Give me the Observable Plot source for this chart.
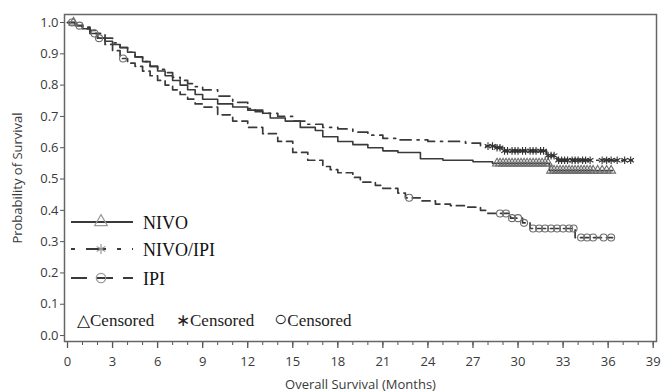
<!DOCTYPE html>
<html><head><meta charset="utf-8">
<script src="https://cdn.jsdelivr.net/npm/d3@7"></script>
<script src="https://cdn.jsdelivr.net/npm/@observablehq/plot@0.6"></script>
<style>
body{margin:0;background:#fff;}
#chart{position:relative;width:666px;height:392px;}
</style></head><body><div id="chart"></div>
<script>
// ---- data ----
const nivoT = [0,0.5,1,1.5,2,2.5,3,3.5,4,4.5,5,5.5,6,6.5,7,7.5,8,8.5,9,10,11,12,13,13.5,14.5,15.5,16.5,17,18,19,20,21,22,23.5,25,27,28.3,32.1,36.3];
const nivoS = [1,0.99,0.98,0.965,0.95,0.94,0.93,0.92,0.905,0.89,0.875,0.86,0.845,0.83,0.815,0.8,0.785,0.77,0.755,0.74,0.73,0.72,0.71,0.695,0.685,0.665,0.655,0.635,0.62,0.61,0.6,0.59,0.585,0.565,0.56,0.555,0.55,0.527,0.527];

const comboT = [0,0.5,1,1.5,2,2.5,3,3.5,4,4.5,5,5.5,6,6.5,7,7.5,8,8.5,9,10,11,12,12.5,13,14,15,16,17,18,19,20,21,22,24,26.5,27.5,28.5,29,31.9,32.6,37.6];
const comboS = [1,0.995,0.985,0.975,0.965,0.95,0.935,0.92,0.905,0.89,0.875,0.86,0.85,0.84,0.825,0.815,0.805,0.795,0.785,0.765,0.745,0.725,0.715,0.71,0.7,0.685,0.675,0.665,0.66,0.65,0.64,0.63,0.625,0.62,0.615,0.605,0.6,0.59,0.575,0.56,0.56];

const ipiT = [0,0.5,1,1.5,2,2.5,3,3.5,4,4.5,5,5.5,6,6.5,7,7.5,8,8.5,9,10,11,12,13,14,15,16,17,17.5,18,19,19.5,20.5,21,22,22.5,23.5,24.5,25.5,26.5,27.5,28,29.5,30.3,30.8,33.8,36.3];
const ipiS = [1,0.99,0.98,0.965,0.95,0.93,0.91,0.885,0.87,0.86,0.845,0.83,0.815,0.8,0.785,0.77,0.755,0.74,0.73,0.705,0.685,0.665,0.645,0.62,0.585,0.56,0.54,0.53,0.52,0.505,0.49,0.48,0.47,0.455,0.44,0.43,0.42,0.415,0.41,0.4,0.39,0.375,0.36,0.342,0.313,0.313];

const nivoCens = [0.4,28.6,28.8,29.0,29.2,29.4,29.6,29.8,30.0,30.2,30.4,30.6,30.8,31.0,31.2,31.4,31.6,31.8,32.0,32.2,32.4,32.6,32.8,33.0,33.2,33.4,33.6,33.8,34.0,34.2,34.4,34.6,34.8,35.0,35.3,35.6,35.9,36.2];
const comboCens = [28.0,28.3,28.6,28.8,29.1,29.3,29.6,29.8,30.0,30.3,30.5,30.8,31.0,31.2,31.5,31.7,32.0,32.2,32.4,32.7,32.9,33.1,33.3,33.6,33.8,34.0,34.3,34.5,34.8,35.6,35.9,36.2,36.6,37.1,37.5];
const ipiCens = [0.3,0.8,1.8,2.1,3.7,22.75,28.8,29.2,29.6,30.0,30.4,31.0,31.4,31.8,32.2,32.6,33.0,33.4,33.7,34.2,34.6,35.0,35.7,36.2];

const seriesNames = ["NIVO","NIVO/IPI","IPI"];
const xMajor = d3.range(0, 40, 3);
const xMinor = d3.range(0, 40, 1);
const yTicks = [0,0.1,0.2,0.3,0.4,0.5,0.6,0.7,0.8,0.9,1.0];

// ---- build tables ----
const rows = (t, s, name) => t.map((d, i) => ({t: d, s: s[i], series: name}));
const survAt = (t, s, time) => { let v = s[0]; for (let i = 0; i < t.length; i++) if (t[i] <= time) v = s[i]; return v; };
const cens = (c, t, s, name) => c.map(time => ({t: time, s: survAt(t, s, time), series: name}));

const nivo = rows(nivoT, nivoS, seriesNames[0]);
const combo = rows(comboT, comboS, seriesNames[1]);
const ipi = rows(ipiT, ipiS, seriesNames[2]);

const lineColor = "#3a3a3a";
const censColor = "#6e6e6e";

const chart = Plot.plot({
  width: 666, height: 392,
  marginLeft: 64, marginRight: 10, marginTop: 14, marginBottom: 51,
  style: {fontFamily: "'Open Sans', sans-serif", fontSize: "13px", color: "#3a3a3a", background: "#fff"},
  x: {domain: [-0.2, 39.22]},
  y: {domain: [-0.019, 1.0256]},
  marks: [
    Plot.axisX({ticks: xMinor, tickSize: 4, text: null, label: null, stroke: "#555"}),
    Plot.axisX({ticks: xMajor, tickSize: 7, tickPadding: 8, stroke: "#555", strokeWidth: 1.3,
      label: "Overall Survival (Months)", labelAnchor: "center", labelArrow: "none", labelOffset: 47, fontSize: 13}),
    Plot.axisY({ticks: yTicks, tickSize: 4, tickPadding: 2, tickFormat: d3.format(".1f"), stroke: "#555",
      label: "Probability of Survival", labelAnchor: "center", labelArrow: "none", labelOffset: 52, fontSize: 13}),
    Plot.frame({stroke: "#666", strokeWidth: 1.5}),
    Plot.line(nivo, {x: "t", y: "s", curve: "step-after", stroke: lineColor, strokeWidth: 1.6}),
    Plot.line(combo, {x: "t", y: "s", curve: "step-after", stroke: lineColor, strokeWidth: 1.7, strokeDasharray: "11,6,2,6"}),
    Plot.line(ipi, {x: "t", y: "s", curve: "step-after", stroke: lineColor, strokeWidth: 1.7, strokeDasharray: "8,5"}),
    Plot.dot(cens(nivoCens, nivoT, nivoS, seriesNames[0]), {x: "t", y: "s", symbol: "triangle", r: 3.3, stroke: censColor, strokeWidth: 1.1}),
    Plot.dot(cens(comboCens, comboT, comboS, seriesNames[1]), {x: "t", y: "s", symbol: "asterisk", r: 3.6, stroke: "#333", strokeWidth: 1.1}),
    Plot.dot(cens(ipiCens, ipiT, ipiS, seriesNames[2]), {x: "t", y: "s", symbol: "circle", r: 3.5, stroke: censColor, strokeWidth: 1.1})
  ]
});
document.getElementById("chart").appendChild(chart);

// ---- legend inside plot area ----
const svg = d3.select(chart);
const lg = svg.append("g").attr("font-family", "'Liberation Serif', 'Times New Roman', serif")
  .attr("fill", "#111").attr("text-anchor", "start");
const legendRows = [
  {name: seriesNames[0], y: 222, dash: null, sym: d3.symbolTriangle},
  {name: seriesNames[1], y: 249, dash: "4,11,20,11", sym: d3.symbolAsterisk},
  {name: seriesNames[2], y: 278, dash: "16,10,0,0", sym: d3.symbolCircle}
];
legendRows.forEach(r => {
  lg.append("line").attr("x1", 71).attr("x2", 133).attr("y1", r.y).attr("y2", r.y)
    .attr("stroke", lineColor).attr("stroke-width", 2).attr("stroke-dasharray", r.dash);
  lg.append("path").attr("d", d3.symbol(r.sym, 70)()).attr("transform", `translate(101,${r.y})`)
    .attr("fill", "none").attr("stroke", "#999").attr("stroke-width", 1.2);
  lg.append("text").attr("x", 143).attr("y", r.y + 7).attr("font-size", 18).text(r.name);
});
const censLabels = [{x: 77, s: "△", fs: 17}, {x: 176, s: "∗", fs: 17}, {x: 274, s: "○", fs: 22}];
censLabels.forEach(c => {
  const t = lg.append("text").attr("x", c.x).attr("y", 326).attr("font-size", 17).attr("fill", "#222");
  t.append("tspan").attr("font-size", c.fs).text(c.s);
  t.append("tspan").text("Censored");
});
</script>
</body></html>
